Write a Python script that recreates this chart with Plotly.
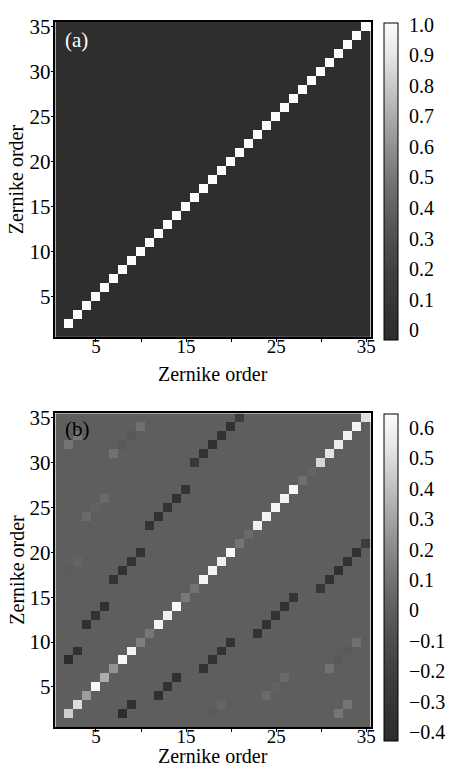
import plotly.graph_objects as go

# Zernike orders (Noll index) shown on both axes
orders = list(range(1, 36))

# (a) diagonal values for orders 2..35
diag_a = [1.0, 1.0, 1.0, 1.0, 1.0, 1.0, 1.0, 1.0, 1.0, 1.0, 1.0, 1.0,
          1.0, 1.0, 1.0, 1.0, 1.0, 1.0, 1.0, 1.0, 1.0, 1.0, 1.0, 1.0,
          1.0, 1.0, 1.0, 1.0, 1.0, 1.0, 1.0, 1.0, 1.0, 1.0]

# (b) diagonal values for orders 2..35
diag_b = [0.45, 0.50, 0.27, 0.62, 0.33, 0.23, 0.62, 0.60, 0.15, 0.12,
          0.60, 0.58, 0.62, 0.13, 0.10, 0.60, 0.60, 0.58, 0.62, 0.11,
          0.06, 0.58, 0.60, 0.60, 0.60, 0.62, 0.08, 0.03, 0.48, 0.53,
          0.56, 0.58, 0.60, 0.52]

# (b) negative coupling between orders n and n+2 (symmetric entries)
band_rows = [2, 3, 4, 5, 6, 7, 8, 9, 10, 11, 12, 13, 14, 15, 16, 17, 18, 19, 20, 21]
band_cols = [8, 9, 12, 13, 14, 17, 18, 19, 20, 23, 24, 25, 26, 27, 30, 31, 32, 33, 34, 35]
band_vals = [-0.42, -0.36, -0.38, -0.35, -0.37, -0.34, -0.35, -0.33, -0.34, -0.33,
             -0.36, -0.34, -0.35, -0.31, -0.28, -0.35, -0.37, -0.35, -0.36, -0.24]

# (b) weak coupling between orders n and n+4 (symmetric entries)
weak_rows = [2, 3, 4, 5, 6, 7, 8, 9, 10, 2, 3]
weak_cols = [18, 19, 24, 25, 26, 31, 32, 33, 34, 32, 33]
weak_vals = [-0.02, 0.03, 0.06, 0.02, 0.06, 0.10, -0.03, -0.03, 0.09, 0.11, 0.11]

# colorbar ticks
ticks_a = [0, 0.1, 0.2, 0.3, 0.4, 0.5, 0.6, 0.7, 0.8, 0.9, 1.0]
labels_a = ["0", "0.1", "0.2", "0.3", "0.4", "0.5", "0.6", "0.7", "0.8", "0.9", "1.0"]
ticks_b = [-0.4, -0.3, -0.2, -0.1, 0, 0.1, 0.2, 0.3, 0.4, 0.5, 0.6]
labels_b = ["\u22120.4", "\u22120.3", "\u22120.2", "\u22120.1", "0",
            "0.1", "0.2", "0.3", "0.4", "0.5", "0.6"]

axis_ticks = [5, 10, 15, 20, 25, 30, 35]
x_labels = ["5", "", "15", "", "25", "", "35"]
y_labels = ["5", "10", "15", "20", "25", "30", "35"]

n = len(orders)


def empty():
    return [[0.0] * n for _ in range(n)]


za = empty()
for k, v in zip(orders[1:], diag_a):
    za[k - 1][k - 1] = v

zb = empty()
for k, v in zip(orders[1:], diag_b):
    zb[k - 1][k - 1] = v
for r, c, v in list(zip(band_rows, band_cols, band_vals)) + list(zip(weak_rows, weak_cols, weak_vals)):
    zb[r - 1][c - 1] = v
    zb[c - 1][r - 1] = v

W, H = 453, 768
FONT = "Liberation Serif"

gray = [
    [0.0, "rgb(44,44,44)"],
    [0.1, "rgb(52,52,52)"],
    [0.2, "rgb(62,62,62)"],
    [0.3, "rgb(76,76,76)"],
    [0.4, "rgb(94,94,94)"],
    [0.5, "rgb(116,116,116)"],
    [0.6, "rgb(142,142,142)"],
    [0.7, "rgb(170,170,170)"],
    [0.8, "rgb(200,200,200)"],
    [0.9, "rgb(230,230,230)"],
    [1.0, "rgb(252,252,252)"],
]


def px_x(p):
    return p / W


def px_y(p):
    return 1 - p / H


def cbar(top, bottom, tv, tt):
    return dict(
        x=px_x(388), xanchor="left", xpad=0, ypad=0,
        y=px_y((top + bottom) / 2), yanchor="middle",
        len=(bottom - top) / H, lenmode="fraction",
        thickness=14, thicknessmode="pixels",
        outlinecolor="black", outlinewidth=1,
        tickvals=tv, ticktext=tt,
        ticks="outside", ticklen=7, tickcolor="rgba(0,0,0,0)",
        tickfont=dict(family=FONT, size=20, color="black"),
    )


fig = go.Figure()
fig.add_trace(go.Heatmap(
    x=orders, y=orders, z=za, colorscale=gray, zmin=-0.032, zmax=1.006,
    xaxis="x", yaxis="y", colorbar=cbar(16, 336, ticks_a, labels_a),
    hoverinfo="skip",
))
fig.add_trace(go.Heatmap(
    x=orders, y=orders, z=zb, colorscale=gray, zmin=-0.43, zmax=0.645,
    xaxis="x2", yaxis="y2", colorbar=cbar(411, 741, ticks_b, labels_b),
    hoverinfo="skip",
))

common = dict(
    range=[0.5, 35.5], showgrid=False, zeroline=False,
    showline=True, linecolor="black", linewidth=1.5, mirror=True,
    ticks="outside", ticklen=3, tickwidth=1.2, tickcolor="black",
    tickvals=axis_ticks,
)
xtick = dict(tickfont=dict(family=FONT, size=19, color="black"), ticklabelstandoff=-12)
ytick = dict(tickfont=dict(family=FONT, size=21, color="black"), ticklabelstandoff=-4)
xdom = [px_x(56), px_x(375)]
fig.update_layout(
    width=W, height=H,
    margin=dict(l=0, r=0, t=0, b=0),
    paper_bgcolor="white", plot_bgcolor="white",
    showlegend=False,
    xaxis=dict(domain=xdom, anchor="y", ticktext=x_labels, **common, **xtick),
    yaxis=dict(domain=[px_y(333), px_y(15)], anchor="x", ticktext=y_labels, **common, **ytick),
    xaxis2=dict(domain=xdom, anchor="y2", ticktext=x_labels, **common, **xtick),
    yaxis2=dict(domain=[px_y(727), px_y(410)], anchor="x2", ticktext=y_labels, **common, **ytick),
)

title_font = dict(family=FONT, size=20, color="black")
annotations = [
    dict(text="(a)", x=px_x(64), y=px_y(33), xanchor="left", yanchor="middle",
         font=dict(family=FONT, size=21, color="white")),
    dict(text="(b)", x=px_x(64), y=px_y(426), xanchor="left", yanchor="middle",
         font=dict(family=FONT, size=21, color="black")),
    dict(text="Zernike order", x=px_x(215.5), y=px_y(370), xanchor="center",
         yanchor="middle", font=title_font),
    dict(text="Zernike order", x=px_x(215.5), y=px_y(756), xanchor="center",
         yanchor="middle", font=title_font),
    dict(text="Zernike order", x=px_x(17), y=px_y(174), textangle=-90,
         xanchor="center", yanchor="middle", font=title_font),
    dict(text="Zernike order", x=px_x(17), y=px_y(568), textangle=-90,
         xanchor="center", yanchor="middle", font=title_font),
]
for a in annotations:
    a.update(xref="paper", yref="paper", showarrow=False)
fig.update_layout(annotations=annotations)

fig.write_html("out.html")
